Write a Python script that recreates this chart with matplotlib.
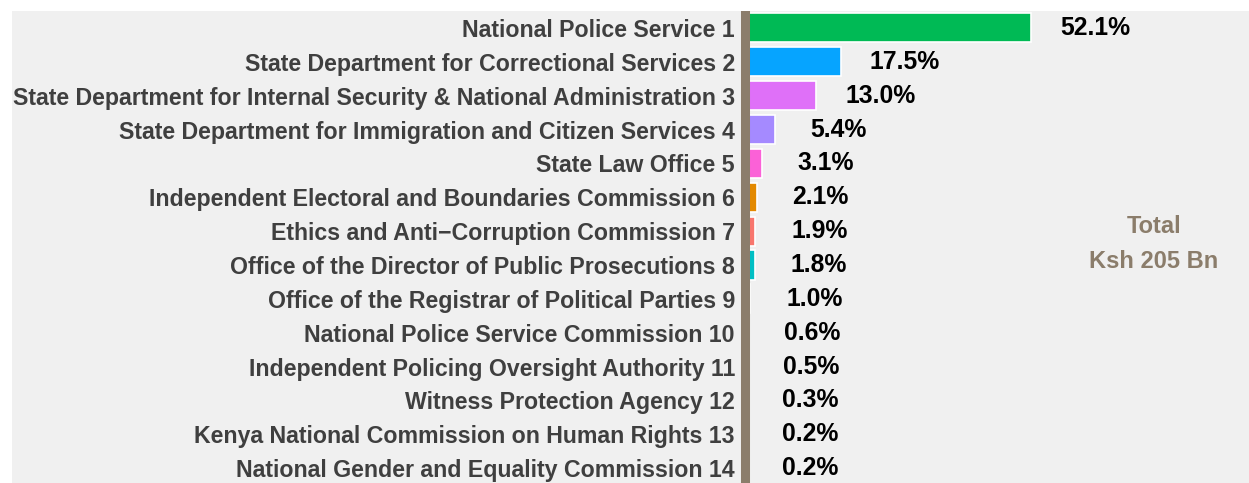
import numpy as np
import matplotlib.pyplot as plt
from matplotlib.patches import Rectangle

# budget share by institution (percent of total)
agencies = [
    "National Police Service 1",
    "State Department for Correctional Services 2",
    "State Department for Internal Security & National Administration 3",
    "State Department for Immigration and Citizen Services 4",
    "State Law Office 5",
    "Independent Electoral and Boundaries Commission 6",
    "Ethics and Anti\u2212Corruption Commission 7",
    "Office of the Director of Public Prosecutions 8",
    "Office of the Registrar of Political Parties 9",
    "National Police Service Commission 10",
    "Independent Policing Oversight Authority 11",
    "Witness Protection Agency 12",
    "Kenya National Commission on Human Rights 13",
    "National Gender and Equality Commission 14",
]
share = [52.1, 17.5, 13.0, 5.4, 3.1, 2.1, 1.9, 1.8, 1.0, 0.6, 0.5, 0.3, 0.2, 0.2]
colours = ["#00BA55", "#06A4FF", "#DF70F8", "#A58AFF", "#FB61D7", "#E38900", "#F8766D",
           "#00BFC4", "#99A800", "#53B400", "#00C094", "#00B6EB", "#C49A00", "#FF66A8"]
total_label = ["Total", "Ksh 205 Bn"]

plt.rcParams['font.family'] = ['Liberation Sans', 'DejaVu Sans']

W, H = 1249, 483
fig = plt.figure(figsize=(W / 100, H / 100), dpi=100, facecolor='white')
fig.patches.append(Rectangle((12 / W, 0), 1 - 12 / W, 472 / H, transform=fig.transFigure,
                             facecolor='#F0F0F0', edgecolor='none', zorder=-10))

ax = fig.add_axes([740 / W, 0, (W - 740) / W, 472 / H])
ax.set_facecolor('none')

y = np.arange(len(share))
ax.barh(y, share, height=0.86, color=colours, edgecolor='white', linewidth=1.2, zorder=2)
ax.axvline(0, color='#8B7D6B', linewidth=6.5, zorder=3)

for yi, v in zip(y, share):
    ax.annotate(f"{v:.1f}%", (v, yi), xytext=(46, 0), textcoords='offset points',
                ha='center', va='center', fontsize=17.8, fontweight='bold', color='black')

ax.text(74.5, 5.85, total_label[0], ha='center', va='center', fontsize=17,
        fontweight='bold', color='#8B7D6B')
ax.text(74.5, 6.9, total_label[1], ha='center', va='center', fontsize=17,
        fontweight='bold', color='#8B7D6B')

ax.set_xlim(-0.91, 91.8)
ax.set_ylim(13.44, -0.50)
ax.set_yticks(y)
ax.set_yticklabels(agencies, fontsize=16.65, fontweight='bold', color='#3F3F3F')
ax.tick_params(axis='y', length=0, pad=3.6)
ax.set_xticks([])
for s in ax.spines.values():
    s.set_visible(False)

fig.savefig('out.png', dpi=100, facecolor='white')
